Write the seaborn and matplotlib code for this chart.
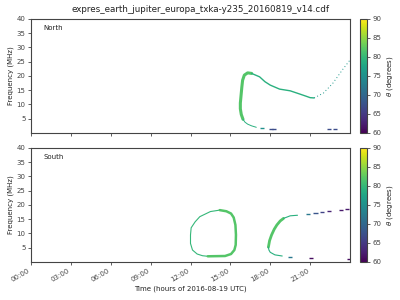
import numpy as np
import matplotlib
matplotlib.use("Agg")
import matplotlib.pyplot as plt
import seaborn as sns
import pandas as pd

# ---------------- data (hours of day, frequency MHz, theta degrees) ----------------
title = "expres_earth_jupiter_europa_txka-y235_20160819_v14.cdf"
xtick_hours = [0, 3, 6, 9, 12, 15, 18, 21]
xtick_labels = ["00:00", "03:00", "06:00", "09:00", "12:00", "15:00", "18:00", "21:00"]
ytick_vals = [5, 10, 15, 20, 25, 30, 35, 40]
cbar_ticks = [60, 65, 70, 75, 80, 85, 90]

# North
n_rise_t = [15.95, 15.82, 15.75, 15.75, 15.8, 15.86, 15.92, 16.05, 16.3, 16.6]
n_rise_f = [4.8, 6.5, 8.5, 10.5, 13.0, 16.0, 18.5, 20.3, 21.1, 20.9]
n_rise_theta = 82
n_desc_t = [16.6, 17.2, 17.6, 18.0, 18.7, 19.5, 20.2, 20.7, 21.0, 21.3]
n_desc_f = [20.9, 19.7, 18.0, 16.8, 15.4, 14.8, 13.7, 12.9, 12.4, 12.3]
n_desc_theta = 79
n_up_t = [21.3, 22.0, 22.7, 23.5, 24.0]
n_up_f = [12.3, 14.0, 17.4, 22.6, 25.6]
n_up_theta = 76
n_hook_t = [15.95, 16.1, 16.3, 16.6, 16.95]
n_hook_f = [4.8, 3.8, 3.1, 2.5, 2.0]
n_hook_theta = 79
n_dots_t = [17.4, 18.05, 18.3, 22.45, 22.85]
n_dots_f = [1.6, 1.3, 1.3, 1.3, 1.3]
n_dots_theta = [75, 67, 67, 67, 67]

# South
s_loopL_t = [13.3, 12.9, 12.5, 12.15, 12.0, 12.0, 12.05, 12.35, 12.7, 13.5, 14.2]
s_loopL_f = [2.0, 2.2, 2.8, 4.2, 6.5, 9.5, 12.0, 14.1, 15.9, 17.7, 18.2]
s_loopL_theta = 80
s_loopR_t = [14.2, 14.7, 15.05, 15.25, 15.38, 15.42, 15.4, 15.3, 15.05, 14.6, 13.3]
s_loopR_f = [18.2, 17.8, 17.0, 15.6, 13.0, 9.5, 6.0, 4.2, 2.8, 2.1, 2.0]
s_loopR_theta = 82
s_c_t = [17.86, 17.95, 18.1, 18.3, 18.5, 18.75, 19.0]
s_c_f = [5.2, 7.5, 9.5, 11.5, 13.0, 14.4, 15.3]
s_c_theta = 82
s_ctop_t = [19.0, 19.5, 20.05]
s_ctop_f = [15.3, 16.2, 16.4]
s_ctop_theta = 79
s_chook_t = [17.86, 17.9, 18.0, 18.35, 18.9]
s_chook_f = [5.2, 4.2, 3.4, 2.5, 2.1]
s_chook_theta = 79
s_dots_t = [19.5, 20.85, 21.4, 21.9, 22.4, 23.3, 23.75, 21.05, 23.9]
s_dots_f = [1.75, 16.7, 17.1, 17.5, 17.9, 18.2, 18.5, 1.4, 0.9]
s_dots_theta = [72, 72, 68, 66, 63, 62, 62, 61, 61]

# ---------------- plotting ----------------
sns.set_style("ticks")
plt.rcParams['font.family'] = ['DejaVu Sans']
plt.rcParams['axes.edgecolor'] = '#444444'
plt.rcParams['xtick.color'] = '#444444'
plt.rcParams['ytick.color'] = '#444444'
plt.rcParams['text.color'] = '#222222'
plt.rcParams['axes.labelcolor'] = '#222222'

cmap = matplotlib.colormaps['viridis']
norm = matplotlib.colors.Normalize(60, 90)

fig = plt.figure(figsize=(4, 3), dpi=100)
ax1 = fig.add_axes([0.0775, 0.5567, 0.7975, 0.38])
ax2 = fig.add_axes([0.0775, 0.1267, 0.7975, 0.38])
cax1 = fig.add_axes([0.90, 0.5567, 0.018, 0.38])
cax2 = fig.add_axes([0.90, 0.1267, 0.018, 0.38])


def seg(ax, t, f, theta, lw, ls='-'):
    df = pd.DataFrame({"t": t, "f": f})
    sns.lineplot(data=df, x="t", y="f", ax=ax, sort=False, color=cmap(norm(theta)),
                 linewidth=lw, linestyle=ls, estimator=None)


def dots(ax, t, f, thetas):
    df = pd.DataFrame({"t": t, "f": f, "theta": thetas})
    pal = {v: cmap(norm(v)) for v in sorted(set(thetas))}
    sns.scatterplot(data=df, x="t", y="f", hue="theta", palette=pal,
                    marker="_", s=9, linewidth=1.0, ax=ax, legend=False)


seg(ax1, n_rise_t, n_rise_f, n_rise_theta, 2.2)
seg(ax1, n_desc_t, n_desc_f, n_desc_theta, 1.0)
seg(ax1, n_up_t, n_up_f, n_up_theta, 0.7, (0, (1, 2.5)))
seg(ax1, n_hook_t, n_hook_f, n_hook_theta, 0.7)
dots(ax1, n_dots_t, n_dots_f, n_dots_theta)

seg(ax2, s_loopL_t, s_loopL_f, s_loopL_theta, 0.8)
seg(ax2, s_loopR_t, s_loopR_f, s_loopR_theta, 1.8)
seg(ax2, s_c_t, s_c_f, s_c_theta, 2.0)
seg(ax2, s_ctop_t, s_ctop_f, s_ctop_theta, 0.8)
seg(ax2, s_chook_t, s_chook_f, s_chook_theta, 0.8)
dots(ax2, s_dots_t, s_dots_f, s_dots_theta)

for ax, lab in [(ax1, "North"), (ax2, "South")]:
    ax.set_xlim(0, 24)
    ax.set_ylim(0, 40)
    ax.set_yticks(ytick_vals)
    ax.set_xticks(xtick_hours)
    ax.tick_params(labelsize=5, length=2.5, width=0.6, pad=1.5)
    ax.set_ylabel("Frequency (MHz)", fontsize=5, labelpad=2)
    ax.set_xlabel("")
    ax.text(0.04, 0.9, lab, transform=ax.transAxes, fontsize=5)
    for s in ax.spines.values():
        s.set_visible(True)
        s.set_linewidth(0.8)

ax1.set_xticklabels([])
ax2.set_xticklabels(xtick_labels, rotation=30, ha="right")
ax2.set_xlabel("Time (hours of 2016-08-19 UTC)", fontsize=5, labelpad=2)
fig.suptitle(title, fontsize=6.3, y=0.985)

for cax in (cax1, cax2):
    sm = matplotlib.cm.ScalarMappable(norm=norm, cmap=cmap)
    cb = fig.colorbar(sm, cax=cax, ticks=cbar_ticks)
    cb.ax.tick_params(labelsize=5, length=2.5, width=0.6, pad=1.5)
    cb.set_label(r"$\theta$ (degrees)", fontsize=5, labelpad=2)
    cb.outline.set_linewidth(0.8)
    cb.outline.set_edgecolor('#444444')

fig.savefig("out.png", dpi=100)
